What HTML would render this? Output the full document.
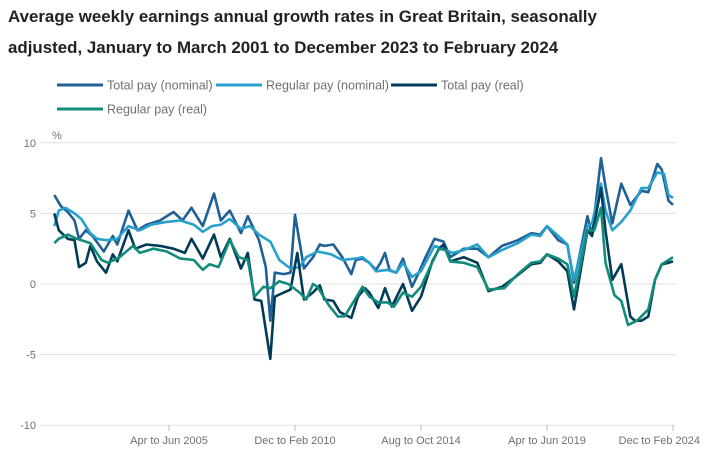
<!DOCTYPE html>
<html><head><meta charset="utf-8"><style>
body{margin:0;background:#fff;font-family:"Liberation Sans",sans-serif;}
svg text{font-family:"Liberation Sans",sans-serif;}
</style></head><body>
<svg width="716" height="462">
<text x="8" y="22" font-size="16.9" font-weight="bold" fill="#222">Average weekly earnings annual growth rates in Great Britain, seasonally</text>
<text x="8" y="53" font-size="16.9" font-weight="bold" fill="#222">adjusted, January to March 2001 to December 2023 to February 2024</text>
<g id="legend"></g>
<text x="52" y="139" font-size="11" fill="#707071">%</text>
<g id="grid"></g>
<g id="series"></g>
</svg>
<script>
const NS="http://www.w3.org/2000/svg";
const seriesNames=["Total pay (nominal)","Regular pay (nominal)","Total pay (real)","Regular pay (real)"];
const seriesColors=["#206095","#27a0cc","#003c57","#118c7b"];
const yTicks=[10,5,0,-5,-10];
const xTickLabels=["Apr to Jun 2005","Dec to Feb 2010","Aug to Oct 2014","Apr to Jun 2019","Dec to Feb 2024"];
const xTickMonths=[51,107,163,219,275];
const totNomM=[0,3,6,9,11,14,17,22,26,28,33,37,41,47,53,57,61,66,71,74,78,83,86,91,94,96,98,102,105,107,111,115,118,120,124,128,132,134,137,140,143,145,147,149,152,155,159,162,165,169,173,176,182,188,193,199,206,212,216,219,224,228,231,237,239,243,245,248,252,256,261,264,268,270,273,275];
const totNomV=[6.3,5.5,5.1,4.5,3.2,3.8,3.4,2.3,3.4,2.8,5.2,3.8,4.2,4.5,5.1,4.5,5.4,4.1,6.4,4.5,5.2,3.6,4.8,3.1,1.2,-2.6,0.8,0.7,0.8,4.9,1.1,1.9,2.8,2.7,2.8,1.9,0.7,1.7,1.8,1.5,1.0,1.5,2.2,1.0,0.8,1.8,-0.2,0.8,1.9,3.2,3.0,1.9,2.5,2.5,1.9,2.7,3.1,3.6,3.5,4.1,3.1,2.8,0.1,4.8,3.4,8.9,6.9,4.3,7.1,5.6,6.6,6.5,8.5,8.1,5.9,5.6];
const regNomM=[0,2,5,9,12,16,19,23,28,33,38,43,50,56,62,66,70,74,78,83,87,91,96,100,105,109,112,117,123,128,134,137,140,143,148,152,155,159,163,167,169,174,177,182,188,193,199,206,212,216,219,224,228,231,237,239,243,245,248,252,256,261,264,268,271,273,275];
const regNomV=[4.1,5.2,5.4,5.0,4.6,3.6,3.2,3.1,3.2,4.1,3.8,4.2,4.4,4.5,4.2,3.7,4.1,4.2,4.6,3.9,4.1,3.5,3.0,1.7,1.1,1.2,1.9,2.3,2.1,1.7,1.8,1.9,1.5,0.9,1.0,0.8,1.5,0.5,0.9,2.1,2.7,2.4,2.2,2.4,2.8,1.9,2.4,2.9,3.5,3.4,4.1,3.4,2.8,0.3,4.1,4.3,7.1,5.2,3.8,4.4,5.2,6.8,6.8,7.9,7.8,6.3,6.1];
const totRealM=[0,2,6,9,11,14,16,19,23,26,28,33,36,41,47,53,58,61,66,71,74,78,83,86,89,92,96,98,102,105,108,111,115,118,120,124,127,132,135,138,140,144,147,150,155,159,163,168,171,173,176,182,188,193,199,205,212,216,219,224,228,231,237,239,243,245,248,252,256,258,261,264,267,270,273,275];
const totRealV=[5.0,3.8,3.2,3.1,1.2,1.5,2.7,1.6,0.8,2.1,1.6,3.8,2.5,2.8,2.7,2.5,2.2,3.2,1.8,3.5,1.9,3.2,1.1,2.2,-1.1,-1.2,-5.3,-0.9,-0.6,-0.4,2.2,-1.1,-0.6,-0.1,-1.1,-1.2,-2.0,-2.4,-0.9,-0.3,-0.6,-1.7,-0.3,-1.6,0.0,-1.9,-0.9,1.6,2.5,2.8,1.6,1.9,1.5,-0.5,-0.2,0.5,1.4,1.5,2.1,1.6,0.9,-1.8,3.8,3.4,6.8,3.8,0.3,1.4,-2.3,-2.6,-2.6,-2.3,0.3,1.4,1.5,1.6];
const regRealM=[0,2,6,10,16,21,24,29,35,38,44,50,56,62,66,69,73,78,82,86,89,93,96,100,104,109,112,115,117,122,126,129,134,137,140,144,148,151,155,159,163,167,171,174,176,182,188,193,200,206,212,216,219,224,228,231,237,240,243,245,249,252,255,259,264,267,270,274,275];
const regRealV=[2.9,3.2,3.5,3.2,2.9,1.7,1.5,1.9,2.7,2.2,2.5,2.3,1.8,1.7,1.0,1.4,1.2,3.1,1.9,1.7,-0.9,-0.2,-0.3,0.2,0.0,-0.6,-1.1,0.0,-0.2,-1.5,-2.3,-2.3,-1.0,-0.2,-0.9,-1.3,-1.3,-1.6,-0.6,-0.9,-0.2,1.2,2.5,2.4,1.6,1.5,1.2,-0.4,-0.3,0.7,1.5,1.6,2.1,1.8,1.4,-0.9,3.8,3.8,5.4,1.5,-0.8,-1.2,-2.9,-2.6,-1.8,0.3,1.4,1.8,1.9];
const seriesM=[totNomM,regNomM,totRealM,regRealM];
const seriesV=[totNomV,regNomV,totRealV,regRealV];

const x0=54.25, dx=2.25, yZero=284, dy=14.12, left=40, right=676;
function xs(m){return x0+m*dx;}
function ys(v){return yZero-v*dy;}
const grid=document.getElementById("grid");
yTicks.forEach(t=>{
  const l=document.createElementNS(NS,"line");
  l.setAttribute("x1",left);l.setAttribute("x2",right);
  l.setAttribute("y1",ys(t));l.setAttribute("y2",ys(t));
  l.setAttribute("stroke","#e0e0e0");l.setAttribute("stroke-width","1");
  
  
  grid.appendChild(l);
  const tx=document.createElementNS(NS,"text");
  tx.setAttribute("x",36);tx.setAttribute("y",ys(t)+4);
  tx.setAttribute("text-anchor","end");tx.setAttribute("font-size","11");tx.setAttribute("fill","#707071");
  tx.textContent=t;
  
  
  grid.appendChild(tx);
});
xTickLabels.forEach((lab,i)=>{
  const x=xs(xTickMonths[i]);
  const last=i==xTickLabels.length-1;
  const tk=document.createElementNS(NS,"line");
  tk.setAttribute("x1",x);tk.setAttribute("x2",x);tk.setAttribute("y1",425);tk.setAttribute("y2",431);
  tk.setAttribute("stroke","#bcbcbc");
  
  
  grid.appendChild(tk);
  const tx=document.createElementNS(NS,"text");
  tx.setAttribute("x",last?700:x);tx.setAttribute("y",444);
  tx.setAttribute("text-anchor",last?"end":"middle");
  tx.setAttribute("font-size","11");tx.setAttribute("fill","#707071");
  tx.textContent=lab;
  
  
  grid.appendChild(tx);
});
const sg=document.getElementById("series");
seriesNames.forEach((n,i)=>{
  const p=document.createElementNS(NS,"polyline");
  p.setAttribute("points",seriesM[i].map((m,j)=>xs(m).toFixed(1)+","+ys(seriesV[i][j]).toFixed(1)).join(" "));
  p.setAttribute("fill","none");p.setAttribute("stroke",seriesColors[i]);
  p.setAttribute("stroke-width","2.6");p.setAttribute("stroke-linejoin","round");
  
  
  sg.appendChild(p);
});
const lg=document.getElementById("legend");
const legPos=[[57,85],[216,85],[391,85],[57,109]];
seriesNames.forEach((n,i)=>{
  const [lx,ly]=legPos[i];
  const l=document.createElementNS(NS,"line");
  l.setAttribute("x1",lx);l.setAttribute("x2",lx+46);l.setAttribute("y1",ly);l.setAttribute("y2",ly);
  l.setAttribute("stroke",seriesColors[i]);l.setAttribute("stroke-width","3");
  
  
  lg.appendChild(l);
  const t=document.createElementNS(NS,"text");
  t.setAttribute("x",lx+50);t.setAttribute("y",ly+4.5);t.setAttribute("font-size","12.5");t.setAttribute("fill","#707071");
  t.textContent=n;
  
  
  lg.appendChild(t);
});
</script>
</body></html>
